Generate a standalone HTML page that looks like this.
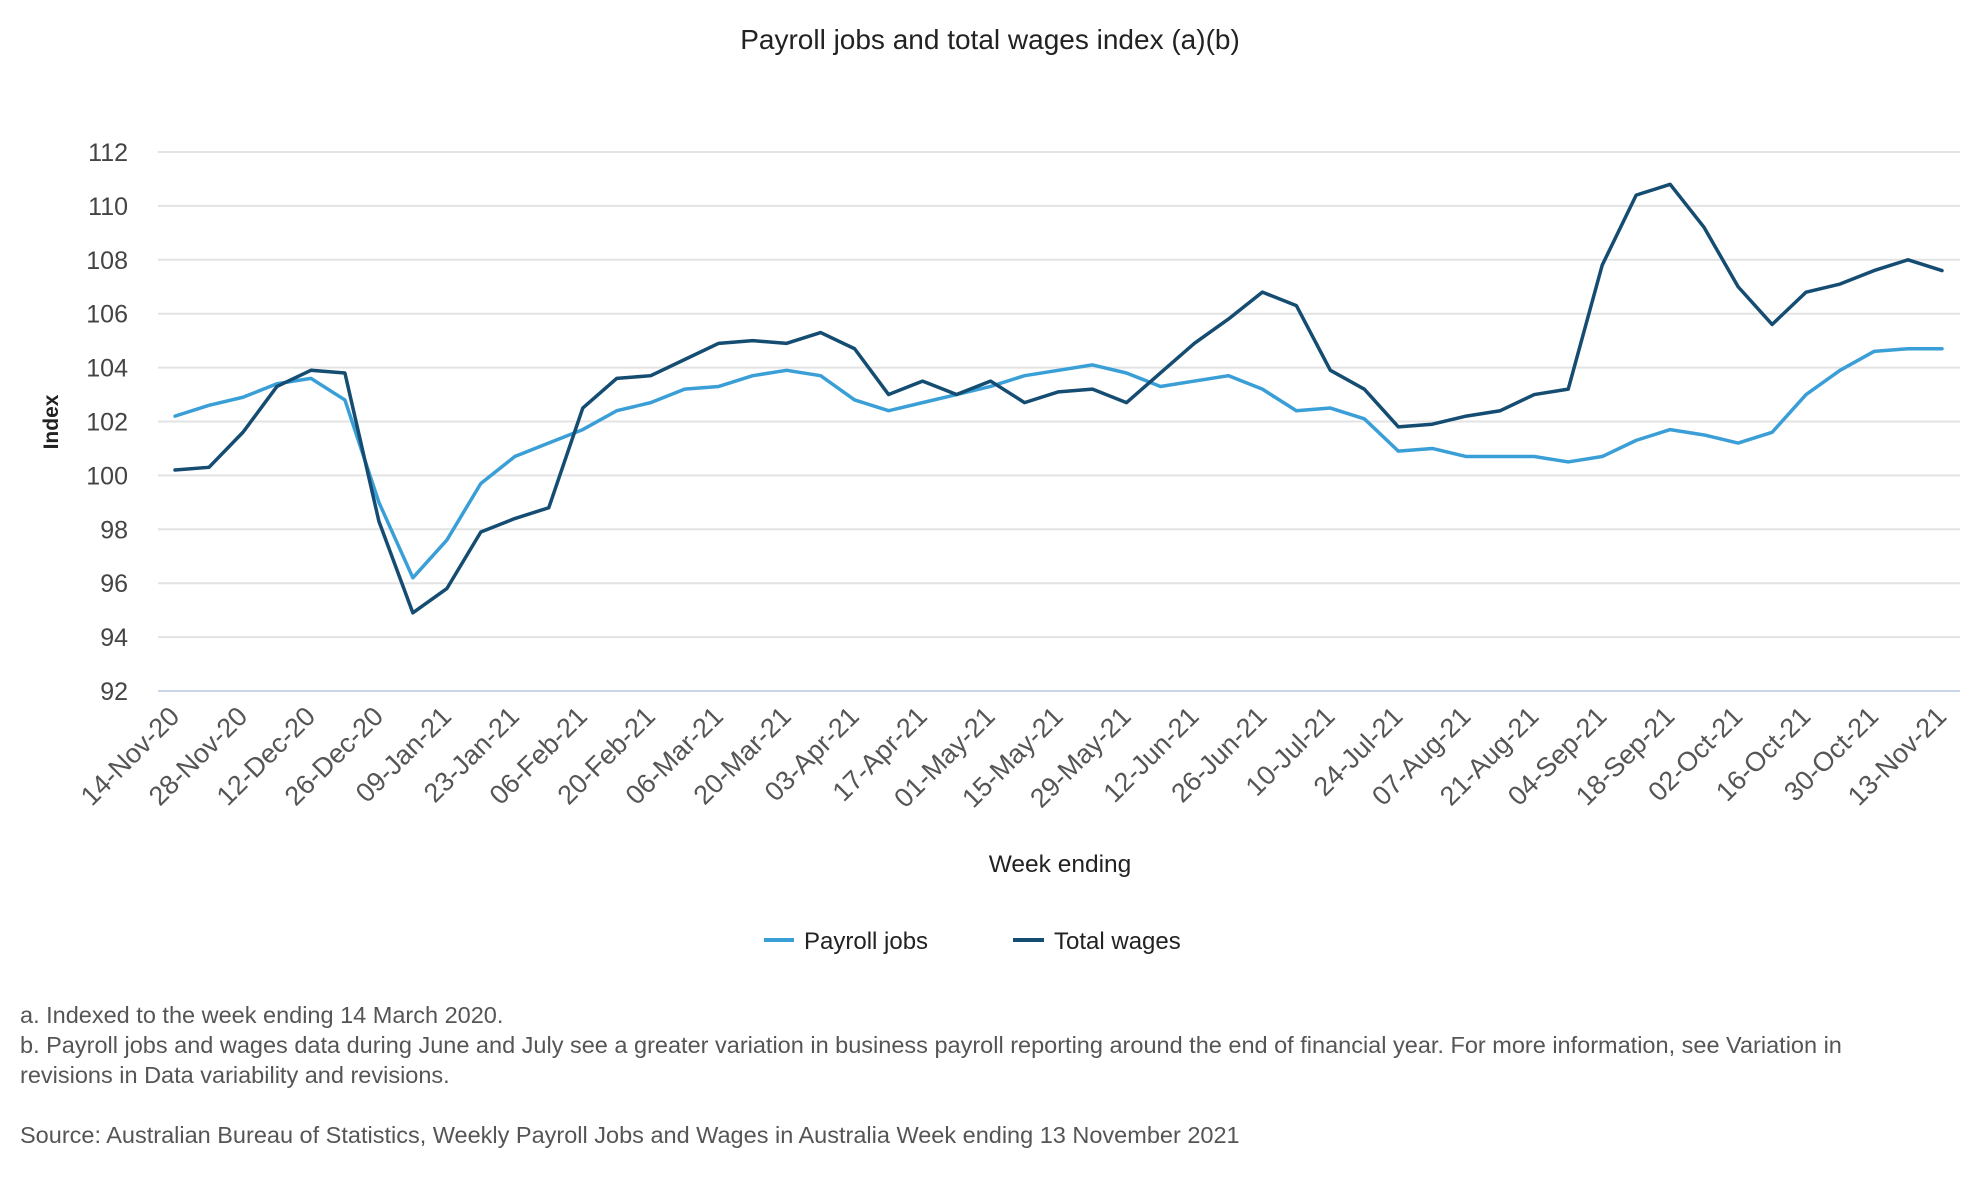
<!DOCTYPE html>
<html><head><meta charset="utf-8"><style>
html,body{margin:0;padding:0;background:#fff;}
body{width:1980px;height:1180px;overflow:hidden;font-family:"Liberation Sans",sans-serif;}
.fn{position:absolute;left:20px;font-size:23.5px;color:#555;line-height:30px;}
</style></head><body>
<svg id="chart" width="1980" height="1180" style="position:absolute;left:0;top:0" font-family="Liberation Sans, sans-serif">
<text x="990" y="49" text-anchor="middle" font-size="28" fill="#222">Payroll jobs and total wages index (a)(b)</text>
<g id="grid"></g><g id="yticks"></g><g id="xticks"></g><g id="lines"></g>
<text transform="translate(58,422) rotate(-90)" text-anchor="middle" font-size="21" font-weight="bold" fill="#222">Index</text>
<text x="1060" y="872" text-anchor="middle" font-size="24.5" fill="#222">Week ending</text>
<g>
<line x1="764" y1="940" x2="794" y2="940" stroke="#3a9fd6" stroke-width="4"/>
<text x="804" y="949" font-size="24" fill="#222">Payroll jobs</text>
<line x1="1013" y1="940" x2="1044" y2="940" stroke="#154c72" stroke-width="4"/>
<text x="1054" y="949" font-size="24" fill="#222">Total wages</text>
</g>
</svg>
<div class="fn" style="top:1000px">a. Indexed to the week ending 14 March 2020.</div>
<div class="fn" style="top:1030px;width:1880px">b. Payroll jobs and wages data during June and July see a greater variation in business payroll reporting around the end of financial year. For more information, see Variation in revisions in Data variability and revisions.</div>
<div class="fn" style="top:1120px">Source: Australian Bureau of Statistics, Weekly Payroll Jobs and Wages in Australia Week ending 13 November 2021</div>
<script>
const xLabels=["14-Nov-20","28-Nov-20","12-Dec-20","26-Dec-20","09-Jan-21","23-Jan-21","06-Feb-21","20-Feb-21","06-Mar-21","20-Mar-21","03-Apr-21","17-Apr-21","01-May-21","15-May-21","29-May-21","12-Jun-21","26-Jun-21","10-Jul-21","24-Jul-21","07-Aug-21","21-Aug-21","04-Sep-21","18-Sep-21","02-Oct-21","16-Oct-21","30-Oct-21","13-Nov-21"];
const yTicks=[92,94,96,98,100,102,104,106,108,110,112];
const payrollJobs=[102.2,102.6,102.9,103.4,103.6,102.8,99.0,96.2,97.6,99.7,100.7,101.2,101.7,102.4,102.7,103.2,103.3,103.7,103.9,103.7,102.8,102.4,102.7,103.0,103.3,103.7,103.9,104.1,103.8,103.3,103.5,103.7,103.2,102.4,102.5,102.1,100.9,101.0,100.7,100.7,100.7,100.5,100.7,101.3,101.7,101.5,101.2,101.6,103.0,103.9,104.6,104.7,104.7];
const totalWages=[100.2,100.3,101.6,103.3,103.9,103.8,98.3,94.9,95.8,97.9,98.4,98.8,102.5,103.6,103.7,104.3,104.9,105.0,104.9,105.3,104.7,103.0,103.5,103.0,103.5,102.7,103.1,103.2,102.7,103.8,104.9,105.8,106.8,106.3,103.9,103.2,101.8,101.9,102.2,102.4,103.0,103.2,107.8,110.4,110.8,109.2,107.0,105.6,106.8,107.1,107.6,108.0,107.6];
const NS="http://www.w3.org/2000/svg";
const n=payrollJobs.length;
const xS=i=>175+i*(1942-175)/(n-1);
const yS=v=>691-(v-92)*(691-152)/20;
function mk(t,a,p){const e=document.createElementNS(NS,t);for(const k in a)e.setAttribute(k,a[k]);p.appendChild(e);return e;}
const grid=document.getElementById('grid'),yt=document.getElementById('yticks'),xt=document.getElementById('xticks'),lg=document.getElementById('lines');
yTicks.forEach(v=>{
 const l=mk('line',{x1:158,x2:1960,y1:yS(v),y2:yS(v),stroke:v===92?'#c9d5e8':'#e3e3e3','stroke-width':2},grid);
 
 
 const t=mk('text',{x:128,y:yS(v)+9,'text-anchor':'end','font-size':25,fill:'#444'},yt);
 t.textContent=v;
 
 
});
xLabels.forEach((s,k)=>{
 const x=xS(k*2)+6,y=718;
 const t=mk('text',{x:x,y:y,'text-anchor':'end','font-size':27,fill:'#555',transform:`rotate(-45 ${x} ${y})`},xt);
 t.textContent=s;
 
 
});
function line(d,c,name){
 const p=mk('polyline',{points:d.map((v,i)=>xS(i)+','+yS(v)).join(' '),fill:'none',stroke:c,'stroke-width':3.5,'stroke-linejoin':'round','stroke-linecap':'round'},lg);
 
 
}
line(payrollJobs,'#3a9fd6','payroll-jobs-line');
line(totalWages,'#154c72','total-wages-line');
</script>
</body></html>
